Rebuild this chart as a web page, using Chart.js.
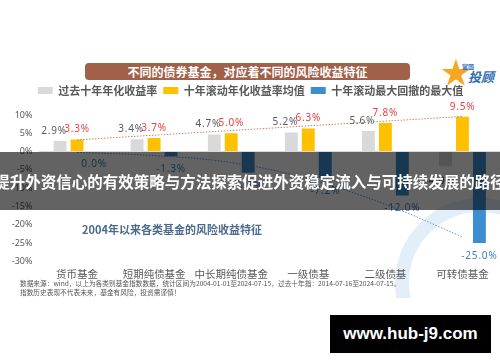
<!DOCTYPE html>
<html>
<head>
<meta charset="utf-8">
<script src="https://cdn.jsdelivr.net/npm/chart.js@4.4.0/dist/chart.umd.min.js"></script>
<style>
  html, body { margin: 0; padding: 0; }
  body { width: 500px; height: 362px; overflow: hidden; position: relative; background: #fff;
         font-family: "Noto Sans CJK SC", "Noto Sans", sans-serif; }
  .sheet { position: absolute; left: 0; top: 58px; width: 500px; height: 240px; overflow: hidden; }
  .ring { position: absolute; left: 395px; top: 140px; width: 170px; height: 170px; border-radius: 50%;
          border: 14px solid rgba(205, 224, 243, 0.55); box-sizing: border-box; }
  .banner { position: absolute; left: 85px; top: 63px; width: 325px; height: 17px; border-radius: 4px;
            background: #a0604a; color: #fff; font-weight: bold; font-size: 12px; line-height: 17px;
            text-align: center; }
  .logo-star { position: absolute; left: 441px; top: 55px; font-size: 30px; color: #f5a623; line-height: 30px; }
  .logo-small { position: absolute; left: 462px; top: 62px; font-size: 6px; color: #2f6db5; font-weight: bold; }
  .logo-big { position: absolute; left: 468px; top: 70px; font-size: 13px; color: #2f6db5; font-weight: bold;
              font-style: italic; line-height: 14px; }
  #wrap { position: absolute; left: 0; top: 79px; width: 501px; height: 207px; }
  .subtitle { position: absolute; left: 82px; top: 221px; font-size: 11px; font-weight: bold; color: #4b6a8c;
              line-height: 16px; }
  .foot { position: absolute; left: 20px; font-size: 6.7px; color: #555; line-height: 9px; white-space: nowrap; }
  .band { position: absolute; left: 0; top: 152px; width: 500px; height: 58px; background: rgba(0, 0, 0, 0.61);
          color: #fff; font-weight: bold; font-size: 15.5px; line-height: 58px; text-align: center;
          white-space: nowrap; overflow: hidden; }
  .band span { display: inline-block; margin-left: -20px; margin-right: -20px; }
  .stamp { position: absolute; left: 330px; top: 315px; width: 161px; height: 38px; background: #000; color: #fff;
           font-family: "Liberation Sans", Arial, sans-serif; font-weight: bold; font-size: 17px; line-height: 38px;
           text-align: center; }
</style>
</head>
<body>
<div class="sheet"><div class="ring"></div></div>
<div class="banner">不同的债券基金，对应着不同的风险收益特征</div>
<div class="logo-star">★</div>
<div class="logo-small">富国</div>
<div class="logo-big">投顾</div>
<div id="wrap"><canvas id="chart"></canvas></div>
<div class="subtitle">2004年以来各类基金的风险收益特征</div>
<div class="foot" style="top:279px">数据来源：wind，以上为各类别基金指数数据，统计区间为2004-01-01至2024-07-15，过去十年指：2014-07-16至2024-07-15。</div>
<div class="foot" style="top:288px">指数历史表现不代表未来，基金有风险，投资需谨慎！</div>
<div class="band"><span>提升外资信心的有效策略与方法探索促进外资稳定流入与可持续发展的路径</span></div>
<div class="stamp">www.hub-j9.com</div>

<script>
// values (%)
const categories = ['货币基金', '短期纯债基金', '中长期纯债基金', '一级债基', '二级债基', '可转债基金'];
const pastTenYear = [2.9, 3.4, 4.7, 5.2, 5.6, -4.0];
const rollingMean = [3.3, 3.7, 5.0, 6.3, 7.8, 9.5];
const maxDrawdown = [0.0, -1.3, -5.8, -7.2, -12.0, -25.0];
// dotted trend lines
const meanTrend = [3.2, null, null, null, null, 9.6];
const drawdownTrend = [-0.2, -1.1, -3.0, -7.5, -14.4, -23.3];
const yMin = -30, yMax = 10, yStep = 5;

// label look per bar dataset
const labelStyle = [
  { color: '#595959', dx: -6, up: 10, down: 15, below: false },
  { color: '#e84040', dx: 0, up: 10, down: 12, below: false },
  { color: '#3f82c4', dx: 0, up: 10, down: 13, below: true }
];

const valueLabels = {
  id: 'valueLabels',
  afterDatasetsDraw(chart) {
    const ctx = chart.ctx;
    ctx.save();
    ctx.font = '10px "Noto Sans", sans-serif';
    ctx.letterSpacing = '0.8px';
    ctx.textAlign = 'center';
    ctx.textBaseline = 'middle';
    labelStyle.forEach((st, di) => {
      const meta = chart.getDatasetMeta(di);
      const data = chart.data.datasets[di].data;
      meta.data.forEach((bar, i) => {
        const v = data[i];
        const below = st.below || v < 0;
        const y = below ? Math.max(bar.y, bar.base) + st.down : bar.y - st.up;
        ctx.fillStyle = st.color;
        ctx.fillText(v.toFixed(1) + '%', bar.x + st.dx, y);
      });
    });
    ctx.restore();
  }
};

const legendSpace = {
  id: 'legendSpace',
  beforeInit(chart) {
    const fit = chart.legend.fit;
    chart.legend.fit = function () {
      fit.bind(chart.legend)();
      this.height = 36;
    };
  }
};

new Chart(document.getElementById('chart'), {
  type: 'bar',
  data: {
    labels: categories,
    datasets: [
      { label: '过去十年年化收益率', data: pastTenYear, backgroundColor: '#d9d9d9', order: 1 },
      { label: '十年滚动年化收益率均值', data: rollingMean, backgroundColor: '#ffc000', order: 1 },
      { label: '十年滚动最大回撤的最大值', data: maxDrawdown, backgroundColor: '#3c8dd2', order: 1 },
      { type: 'line', label: 'meanTrend', data: meanTrend, spanGaps: true, borderColor: '#c9826f',
        borderWidth: 1, borderDash: [1.5, 1.5], pointRadius: 0, fill: false, order: 0 },
      { type: 'line', label: 'drawdownTrend', data: drawdownTrend, borderColor: '#5b9bd5', tension: 0.4,
        borderWidth: 1, borderDash: [1.5, 1.5], pointRadius: 0, fill: false, order: 0 }
    ]
  },
  options: {
    responsive: true,
    maintainAspectRatio: false,
    animation: false,
    layout: { padding: 0 },
    datasets: { bar: { categoryPercentage: 0.66, barPercentage: 0.76 } },
    plugins: {
      legend: {
        display: true,
        position: 'top',
        labels: {
          filter: item => item.datasetIndex < 3,
          boxWidth: 15,
          boxHeight: 7,
          padding: 6,
          color: '#595959',
          font: { family: '"Noto Sans CJK SC"', size: 11, weight: 'bold' }
        }
      },
      tooltip: { enabled: false }
    },
    scales: {
      x: {
        grid: { display: false, drawTicks: false },
        border: { display: false },
        ticks: {
          color: '#595959', padding: 6, maxRotation: 0, minRotation: 0, autoSkip: false,
          font: { family: '"Noto Sans CJK SC"', size: 10.5 }
        }
      },
      y: {
        min: yMin,
        max: yMax,
        afterFit: scale => { scale.width = 38.5; },
        grid: {
          drawTicks: false,
          color: c => (c.tick && c.tick.value === 0 ? '#d9d9d9' : 'transparent')
        },
        border: { display: false },
        ticks: {
          stepSize: yStep,
          padding: 6,
          color: '#595959',
          font: { family: '"Noto Sans"', size: 9 },
          callback: v => v + '%'
        }
      }
    }
  },
  plugins: [legendSpace, valueLabels]
});
</script>
</body>
</html>
